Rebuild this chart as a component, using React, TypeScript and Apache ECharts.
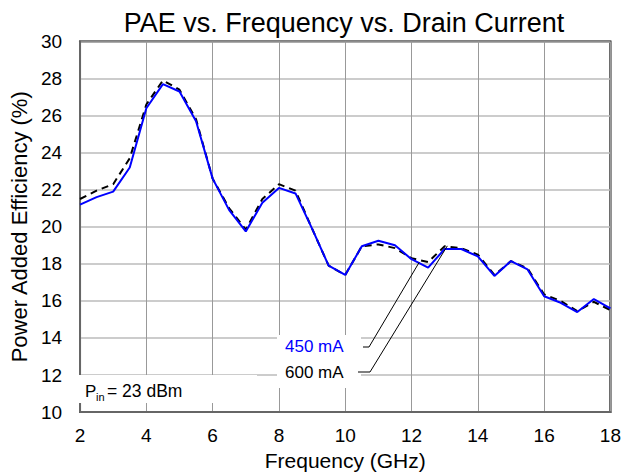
import React, { useEffect, useRef } from 'react';
import * as echarts from 'echarts';

const freqGHz = [2, 2.5, 3, 3.5, 4, 4.5, 5, 5.5, 6, 6.5, 7, 7.5, 8, 8.5, 9, 9.5, 10, 10.5, 11, 11.5, 12, 12.5, 13, 13.5, 14, 14.5, 15, 15.5, 16, 16.5, 17, 17.5, 18];
const pae450 = [21.2, 21.6, 21.9, 23.2, 26.4, 27.7, 27.3, 25.7, 22.6, 20.9, 19.75, 21.3, 22.1, 21.8, 19.9, 17.9, 17.4, 18.95, 19.25, 19.0, 18.25, 17.8, 18.8, 18.8, 18.4, 17.35, 18.15, 17.7, 16.25, 15.9, 15.4, 16.1, 15.6];
const pae600 = [21.5, 21.95, 22.3, 23.7, 26.6, 27.9, 27.4, 25.8, 22.6, 21.0, 19.85, 21.5, 22.3, 21.95, 19.9, 17.9, 17.4, 18.95, 19.05, 18.85, 18.3, 18.1, 18.95, 18.85, 18.5, 17.4, 18.15, 17.75, 16.35, 16.0, 15.45, 15.95, 15.5];

const seriesNames = ['450 mA', '600 mA'];
const leaderTargets = [[12.23, 18.08], [13.08, 18.97]];
const titleText = 'PAE vs. Frequency vs. Drain Current';
const xName = 'Frequency (GHz)';
const yName = 'Power Added Efficiency (%)';

const FONT = '"Liberation Sans", Arial, sans-serif';

export default function App() {
  const ref = useRef<HTMLDivElement>(null);
  useEffect(() => {
    document.body.style.margin = '0';
    if (!ref.current) return;
    const chart = echarts.init(ref.current, undefined, { renderer: 'svg' });
    const d450 = freqGHz.map((f, i) => [f, pae450[i]]);
    const d600 = freqGHz.map((f, i) => [f, pae600[i]]);
    chart.setOption({
      animation: false,
      textStyle: { fontFamily: FONT },
      title: {
        text: titleText,
        left: 339,
        textAlign: 'center',
        top: 4,
        textStyle: { fontSize: 27, fontWeight: 'normal', color: '#000', fontFamily: FONT },
      },
      grid: {
        left: 75, right: 12, top: 41.5, bottom: 62.5,
        show: true, borderColor: '#000', borderWidth: 2, backgroundColor: '#fff',
      },
      xAxis: {
        type: 'value', min: 2, max: 18, interval: 2,
        name: xName, nameLocation: 'middle', nameGap: 33,
        nameTextStyle: { fontSize: 21, color: '#000', fontFamily: FONT },
        axisLine: { show: true, onZero: false, lineStyle: { color: '#666', width: 2 } },
        axisTick: { show: false },
        axisLabel: { fontSize: 19, color: '#000', margin: 14, fontFamily: FONT },
        splitLine: { show: true, lineStyle: { color: '#999', width: 1 } },
      },
      yAxis: {
        type: 'value', min: 10, max: 30, interval: 2,
        name: yName, nameLocation: 'middle', nameGap: 45,
        nameTextStyle: { fontSize: 22, color: '#000', fontFamily: FONT },
        axisLine: { show: true, onZero: false, lineStyle: { color: '#666', width: 2 } },
        axisTick: { show: false },
        axisLabel: { fontSize: 19, color: '#000', margin: 18, fontFamily: FONT },
        splitLine: { show: true, lineStyle: { color: '#bbb', width: 1.5 } },
      },
      series: [
        {
          name: seriesNames[1], type: 'line', data: d600, symbol: 'none', z: 3,
          lineStyle: { color: '#000', width: 2, type: [7, 5] },
        },
        {
          name: seriesNames[0], type: 'line', data: d450, symbol: 'none', z: 4,
          lineStyle: { color: '#0000ff', width: 2 },
        },
      ],
    });
    const p1 = chart.convertToPixel({ gridIndex: 0 }, leaderTargets[0]) as number[];
    const p2 = chart.convertToPixel({ gridIndex: 0 }, leaderTargets[1]) as number[];
    chart.setOption({
      graphic: [
        { type: 'rect', z: 5, shape: { x: 277, y: 335, width: 84, height: 53 }, style: { fill: '#fff' } },
        { type: 'rect', z: 5, shape: { x: 76, y: 375, width: 181, height: 28 }, style: { fill: '#fff' } },
        {
          type: 'text', z: 6, x: 285, y: 346,
          style: { text: seriesNames[0], fill: '#0000ff', font: '17px ' + FONT, verticalAlign: 'middle', textVerticalAlign: 'middle' },
        },
        {
          type: 'text', z: 6, x: 285, y: 372,
          style: { text: seriesNames[1], fill: '#000', font: '17px ' + FONT, verticalAlign: 'middle', textVerticalAlign: 'middle' },
        },
        {
          type: 'polyline', z: 6,
          shape: { points: [[363, 347], [369, 347], [p1[0], p1[1]]] },
          style: { stroke: '#000', lineWidth: 1, fill: 'none' },
        },
        {
          type: 'polyline', z: 6,
          shape: { points: [[358, 372], [370, 372], [p2[0], p2[1]]] },
          style: { stroke: '#000', lineWidth: 1, fill: 'none' },
        },
        {
          type: 'text', z: 6, x: 85, y: 391,
          style: { text: 'P', fill: '#000', font: '17px ' + FONT, verticalAlign: 'middle', textVerticalAlign: 'middle' },
        },
        {
          type: 'text', z: 6, x: 96, y: 397,
          style: { text: 'in', fill: '#000', font: '11px ' + FONT, verticalAlign: 'middle', textVerticalAlign: 'middle' },
        },
        {
          type: 'text', z: 6, x: 107, y: 391,
          style: { text: '= 23 dBm', fill: '#000', font: '17.5px ' + FONT, verticalAlign: 'middle', textVerticalAlign: 'middle' },
        },
      ],
    });
    return () => chart.dispose();
  }, []);
  return <div ref={ref} style={{ width: 624, height: 476 }} />;
}
